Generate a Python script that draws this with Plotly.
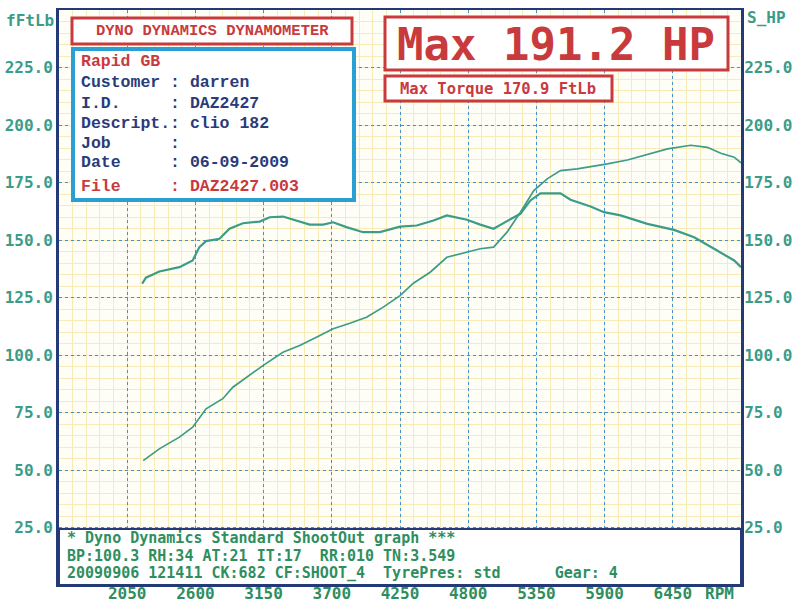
import plotly.graph_objects as go

# ---------------- data ----------------
torque_rpm = [2171, 2201, 2309, 2471, 2578, 2632, 2686, 2794, 2875, 2983, 3118, 3199, 3306, 3387,
              3522, 3630, 3711, 3818, 3953, 4088, 4250, 4385, 4520, 4628, 4790, 4897, 5005, 5113,
              5221, 5302, 5382, 5544, 5625, 5787, 5895, 6029, 6245, 6460, 6622, 6783, 6945, 7000]
torque_ftlb = [131.0, 133.6, 136.3, 138.2, 141.1, 146.9, 149.5, 150.5, 154.9, 157.3, 158.0, 159.9,
               160.2, 158.8, 156.7, 156.7, 157.7, 155.6, 153.4, 153.4, 155.8, 156.3, 158.5, 160.7,
               158.8, 156.7, 154.9, 158.2, 161.4, 167.2, 170.3, 170.3, 167.5, 164.6, 162.1, 160.7,
               157.0, 154.4, 151.2, 146.2, 141.1, 138.2]

power_rpm = [2179, 2309, 2471, 2578, 2686, 2821, 2902, 3144, 3306, 3441, 3576, 3711, 3846, 3980,
             4115, 4250, 4358, 4493, 4628, 4790, 4897, 5005, 5113, 5221, 5329, 5437, 5544, 5679,
             5814, 5922, 6084, 6245, 6407, 6595, 6729, 6837, 6945, 7000]
power_hp = [54.1, 59.2, 64.3, 68.6, 76.6, 81.0, 86.0, 95.4, 101.2, 104.1, 107.7, 111.4, 113.8,
            116.4, 120.8, 125.8, 131.2, 136.0, 142.5, 144.7, 146.2, 146.9, 153.4, 162.1, 171.5,
            176.6, 180.2, 180.9, 182.0, 183.1, 184.8, 187.2, 189.6, 191.2, 190.3, 187.7, 186.0,
            183.5]

x_ticks = [2050, 2600, 3150, 3700, 4250, 4800, 5350, 5900, 6450]
y_ticks = [25, 50, 75, 100, 125, 150, 175, 200, 225]

header_title = "DYNO DYNAMICS DYNAMOMETER"
info_company = "Rapid GB"
info_lines = ["Customer : darren", "I.D.     : DAZ2427", "Descript.: clio 182",
              "Job      :", "Date     : 06-09-2009"]
info_file = "File     : DAZ2427.003"
max_hp_text = "Max 191.2 HP"
max_tq_text = "Max Torque 170.9 FtLb"
footer_lines = ["* Dyno Dynamics Standard ShootOut graph ***",
                "BP:100.3 RH:34 AT:21 IT:17  RR:010 TN:3.549",
                "20090906 121411 CK:682 CF:SHOOT_4  TyrePres: std      Gear: 4"]

# ---------------- styling ----------------
W, H = 800, 609
L, R, T, B = 59, 59, 10, 24
PW, PH = W - L - R, H - T - B

TEAL = "#3b9c87"
GREEN = "#2f8e5e"
RED = "#c93a3d"
NAVY = "#2a3b7a"
BLUE_BOX = "#2b9fd4"
AXIS_NAVY = "#243a78"
MINOR = "#f7ebb8"
MAJOR = "#4a90c8"
MONO = "DejaVu Sans Mono"
SERIF_MONO = "Liberation Mono"


def px(x):
    return (x - L) / PW


def py(y):
    return (H - B - y) / PH


fig = go.Figure()
fig.add_trace(go.Scatter(x=torque_rpm, y=torque_ftlb, mode="lines",
                         line=dict(color=TEAL, width=2.2), name="Torque", yaxis="y"))
fig.add_trace(go.Scatter(x=power_rpm, y=power_hp, mode="lines",
                         line=dict(color=TEAL, width=1.7), name="Power", yaxis="y2"))

shapes = []
annotations = []


def box(x0, y0, x1, y1, color, width):
    shapes.append(dict(type="rect", xref="paper", yref="paper", x0=px(x0), x1=px(x1),
                       y0=py(y1), y1=py(y0), line=dict(color=color, width=width),
                       fillcolor="white", layer="above"))


def text(x, y, s, color, size, family, anchor="left"):
    annotations.append(dict(xref="paper", yref="paper", x=px(x), y=py(y), text=s,
                            showarrow=False, xanchor=anchor, yanchor="middle",
                            font=dict(color=color, size=size, family=family, weight="bold")))


# footer box
box(59, 529, 741, 585, AXIS_NAVY, 2)
for i, s in enumerate(footer_lines):
    text(65, 538 + i * 17.5, s.replace(" ", "&nbsp;"), GREEN, 15, MONO)

# header / info boxes
box(72, 18, 352, 44, RED, 3)
text(212, 31, header_title, RED, 15.5, SERIF_MONO, anchor="center")
box(73, 49, 354, 200, BLUE_BOX, 4)
text(79, 61, info_company, RED, 16.5, SERIF_MONO)
for i, s in enumerate(info_lines):
    text(79, 83 + i * 20, s.replace(" ", "&nbsp;"), NAVY, 16.5, SERIF_MONO)
text(79, 186, info_file.replace(" ", "&nbsp;"), RED, 16.5, SERIF_MONO)

# max boxes
box(385, 17, 728, 70, RED, 3)
text(556, 45, max_hp_text, RED, 44, MONO, anchor="center")
box(385, 76, 612, 101, RED, 3)
text(498, 89, max_tq_text, RED, 15.5, MONO, anchor="center")

# axis titles
annotations.append(dict(xref="paper", yref="paper", x=px(56), y=py(20), text="fFtLb",
                        showarrow=False, xanchor="right", yanchor="middle",
                        font=dict(color=TEAL, size=16, family=MONO, weight="bold")))
annotations.append(dict(xref="paper", yref="paper", x=px(745), y=py(17), text="S_HP",
                        showarrow=False, xanchor="left", yanchor="middle",
                        font=dict(color=TEAL, size=16, family=MONO, weight="bold")))
annotations.append(dict(xref="paper", yref="paper", x=px(719), y=py(593), text="RPM",
                        showarrow=False, xanchor="center", yanchor="middle",
                        font=dict(color=GREEN, size=16, family=MONO, weight="bold")))

tick_font = dict(color=TEAL, size=16, family=MONO, weight="bold")

fig.update_layout(
    width=W, height=H, margin=dict(l=L, r=R, t=T, b=B, autoexpand=False),
    paper_bgcolor="white", plot_bgcolor="#fffef6", showlegend=False,
    shapes=shapes, annotations=annotations,
    xaxis=dict(range=[1500, 7000], tickvals=x_ticks, ticktext=[str(v) for v in x_ticks],
               showgrid=True, gridcolor=MAJOR, griddash="dot", gridwidth=1,
               minor=dict(dtick=110, tick0=1500, showgrid=True, gridcolor=MINOR,
                          gridwidth=1, griddash="solid"),
               showline=True, linecolor=AXIS_NAVY, linewidth=2, mirror=True,
               ticks="", tickfont=dict(color=GREEN, size=16, family=MONO, weight="bold"),
               ticklabelstandoff=-7,
               zeroline=False, fixedrange=True, automargin=False),
    yaxis=dict(range=[0, 250], tickvals=y_ticks, ticktext=[f"{v:.1f}" for v in y_ticks],
               showgrid=True, gridcolor=MAJOR, griddash="dot", gridwidth=1,
               minor=dict(dtick=5, tick0=0, showgrid=True, gridcolor=MINOR,
                          gridwidth=1, griddash="solid"),
               showline=True, linecolor=AXIS_NAVY, linewidth=3,
               ticks="", tickfont=tick_font, zeroline=False, fixedrange=True, automargin=False),
    yaxis2=dict(range=[0, 250], tickvals=y_ticks, ticktext=[f"{v:.1f}" for v in y_ticks],
                overlaying="y", side="right", showgrid=False,
                showline=True, linecolor=AXIS_NAVY, linewidth=3, ticklabelstandoff=-3,
                ticks="", tickfont=tick_font, zeroline=False, fixedrange=True, automargin=False),
)

fig.write_html("out.html")
